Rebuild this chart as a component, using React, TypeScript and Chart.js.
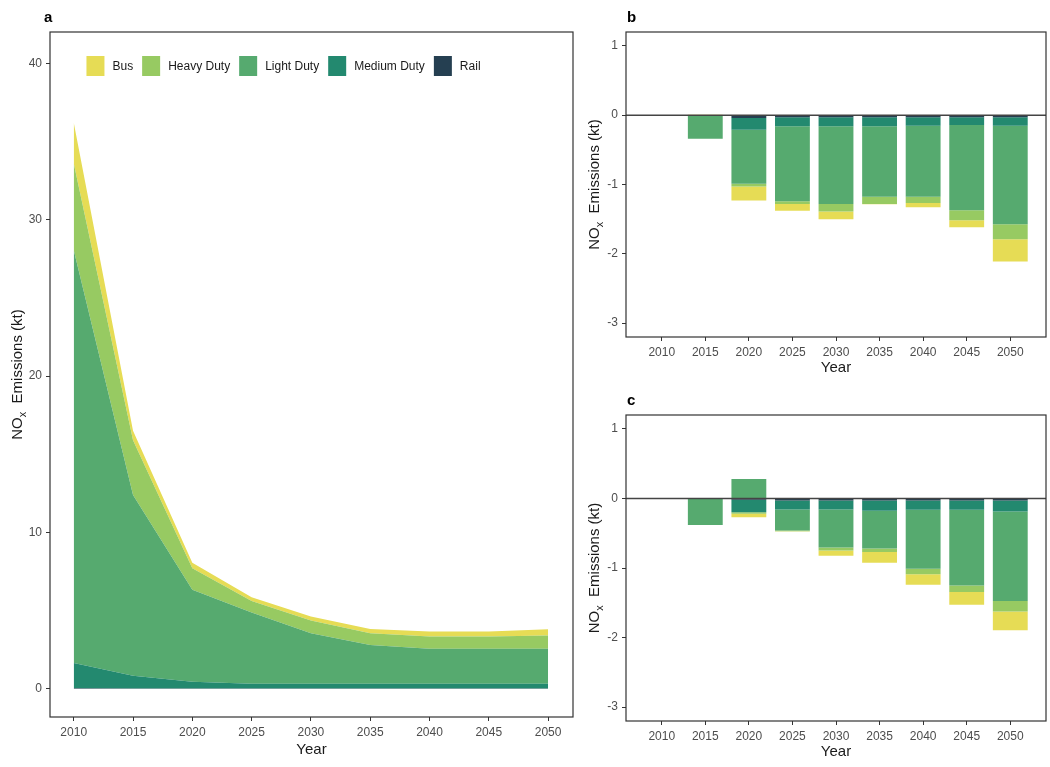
import { useEffect, useRef } from "react";
import { Chart, registerables } from "chart.js";

Chart.register(...registerables);

const FONT = "'Liberation Sans', Arial, sans-serif";
Chart.defaults.font.family = FONT;

// ---------- data ----------
const YEARS = [2010, 2015, 2020, 2025, 2030, 2035, 2040, 2045, 2050];
const SERIES = ["Rail", "Medium Duty", "Light Duty", "Heavy Duty", "Bus"]; // stacking order (bottom first)
const LEGEND_ORDER = ["Bus", "Heavy Duty", "Light Duty", "Medium Duty", "Rail"];
const COLORS: Record<string, string> = {
  Bus: "#E6DC55",
  "Heavy Duty": "#97CA62",
  "Light Duty": "#56AA6F",
  "Medium Duty": "#23896F",
  Rail: "#253F51",
};

// panel a: absolute emissions (kt)
const A_RAIL = [0.04, 0.03, 0.03, 0.03, 0.03, 0.03, 0.03, 0.03, 0.03];
const A_MEDIUM = [1.62, 0.8, 0.42, 0.29, 0.29, 0.29, 0.29, 0.29, 0.29];
const A_LIGHT = [26.4, 11.57, 5.88, 4.56, 3.24, 2.49, 2.24, 2.24, 2.24];
const A_HEAVY = [5.55, 3.5, 1.38, 0.74, 0.81, 0.75, 0.78, 0.78, 0.85];
const A_BUS = [2.6, 0.6, 0.36, 0.24, 0.25, 0.27, 0.32, 0.32, 0.4];

// panel b: differences (kt)
const B_RAIL = [0, 0, -0.04, -0.03, -0.03, -0.03, -0.03, -0.03, -0.03];
const B_MEDIUM = [0, 0, -0.17, -0.13, -0.13, -0.13, -0.124, -0.11, -0.124];
const B_LIGHT = [0, -0.34, -0.78, -1.08, -1.12, -1.015, -1.024, -1.23, -1.42];
const B_HEAVY = [0, 0, -0.04, -0.04, -0.11, -0.106, -0.09, -0.145, -0.216];
const B_BUS = [0, 0.01, -0.2, -0.1, -0.11, -0.005, -0.06, -0.1, -0.32];

// panel c: differences (kt)
const C_RAIL = [0, 0, -0.02, -0.03, -0.03, -0.03, -0.03, -0.03, -0.03];
const C_MEDIUM = [0, 0, -0.18, -0.13, -0.13, -0.148, -0.133, -0.133, -0.158];
const C_LIGHT = [0, -0.38, 0.28, -0.3, -0.544, -0.543, -0.847, -1.087, -1.288];
const C_HEAVY = [0, 0, -0.02, -0.01, -0.043, -0.048, -0.081, -0.096, -0.149];
const C_BUS = [0, 0, -0.05, -0.005, -0.077, -0.154, -0.149, -0.183, -0.269];

const A_TICKS_Y = [0, 10, 20, 30, 40];
const BC_TICKS_Y = [-3, -2, -1, 0, 1];

// ---------- helpers ----------
const TICK_COLOR = "#4D4D4D";
const BOX_COLOR = "#333333";

function drawNOxTitle(ctx: CanvasRenderingContext2D, cx: number, cy: number, size: number) {
  ctx.save();
  ctx.fillStyle = "#1A1A1A";
  const big = `${size}px ${FONT}`;
  const small = `${Math.round(size * 0.72)}px ${FONT}`;
  ctx.font = big;
  const w1 = ctx.measureText("NO").width;
  const w3 = ctx.measureText("  Emissions (kt)").width;
  ctx.font = small;
  const w2 = ctx.measureText("x").width;
  const total = w1 + w2 + w3;
  ctx.translate(cx, cy);
  ctx.rotate(-Math.PI / 2);
  ctx.textBaseline = "middle";
  ctx.textAlign = "left";
  let x = -total / 2;
  ctx.font = big;
  ctx.fillText("NO", x, 0);
  x += w1;
  ctx.font = small;
  ctx.fillText("x", x, size * 0.3);
  x += w2;
  ctx.font = big;
  ctx.fillText("  Emissions (kt)", x, 0);
  ctx.restore();
}

function makeDecor(opts: {
  letter: string;
  letterX: number;
  letterY: number;
  yTitleX: number;
  xTitleY: number;
  zeroLine?: boolean;
  legend?: boolean;
}) {
  return {
    id: "decor" + opts.letter,
    afterDatasetsDraw(chart: any) {
      const ctx = chart.ctx as CanvasRenderingContext2D;
      const a = chart.chartArea;
      ctx.save();
      if (opts.zeroLine) {
        const y0 = chart.scales.y.getPixelForValue(0);
        ctx.strokeStyle = "#444";
        ctx.lineWidth = 1.4;
        ctx.beginPath();
        ctx.moveTo(a.left, y0);
        ctx.lineTo(a.right, y0);
        ctx.stroke();
      }
      ctx.strokeStyle = BOX_COLOR;
      ctx.lineWidth = 1.2;
      ctx.strokeRect(a.left, a.top, a.right - a.left, a.bottom - a.top);

      // panel letter
      ctx.fillStyle = "#000";
      ctx.font = `bold 15px ${FONT}`;
      ctx.textAlign = "left";
      ctx.textBaseline = "alphabetic";
      ctx.fillText(opts.letter, opts.letterX, opts.letterY);

      // x title
      ctx.font = `15px ${FONT}`;
      ctx.fillStyle = "#1A1A1A";
      ctx.textAlign = "center";
      ctx.textBaseline = "middle";
      ctx.fillText("Year", (a.left + a.right) / 2, opts.xTitleY);

      drawNOxTitle(ctx, opts.yTitleX, (a.top + a.bottom) / 2, 15);

      if (opts.legend) {
        ctx.font = `12px ${FONT}`;
        const boxW = 18, boxH = 20, gapText = 8, gapItem = 9;
        let total = 0;
        LEGEND_ORDER.forEach((n, i) => {
          total += boxW + gapText + ctx.measureText(n).width + (i < LEGEND_ORDER.length - 1 ? gapItem : 0);
        });
        let x = a.left + 233.5 - total / 2;
        const y = 56;
        ctx.textAlign = "left";
        ctx.textBaseline = "middle";
        LEGEND_ORDER.forEach((n) => {
          ctx.fillStyle = COLORS[n];
          ctx.fillRect(x, y, boxW, boxH);
          x += boxW + gapText;
          ctx.fillStyle = "#1A1A1A";
          ctx.fillText(n, x, y + boxH / 2 + 0.5);
          x += ctx.measureText(n).width + gapItem;
        });
      }
      ctx.restore();
    },
  };
}

function gridOpts() {
  return {
    drawOnChartArea: false,
    drawTicks: true,
    tickLength: 4,
    color: BOX_COLOR,
    lineWidth: 1,
    offset: false,
  };
}

// ---------- configs ----------
function configA(): any {
  const arrays = [A_RAIL, A_MEDIUM, A_LIGHT, A_HEAVY, A_BUS];
  return {
    type: "line",
    data: {
      datasets: SERIES.map((name, i) => ({
        label: name,
        data: YEARS.map((yr, j) => ({ x: yr, y: arrays[i][j] })),
        backgroundColor: COLORS[name],
        borderColor: COLORS[name],
        borderWidth: 0,
        pointRadius: 0,
        fill: i === 0 ? "origin" : "-1",
        tension: 0,
      })),
    },
    options: {
      animation: false,
      responsive: false,
      layout: { padding: { top: 32, right: 7, left: 0, bottom: 0 } },
      plugins: { legend: { display: false }, tooltip: { enabled: false } },
      scales: {
        x: {
          type: "linear",
          min: 2008,
          max: 2052.1,
          afterFit: (s: any) => { s.height = 50; },
          afterBuildTicks: (s: any) => { s.ticks = YEARS.map((v) => ({ value: v })); },
          ticks: { color: TICK_COLOR, font: { size: 12 }, padding: 4, callback: (v: any) => String(v) },
          grid: gridOpts(),
          border: { display: false },
        },
        y: {
          type: "linear",
          stacked: true,
          min: -1.8,
          max: 42,
          afterFit: (s: any) => { s.width = 50; },
          afterBuildTicks: (s: any) => { s.ticks = A_TICKS_Y.map((v) => ({ value: v })); },
          ticks: { color: TICK_COLOR, font: { size: 12 }, padding: 4 },
          grid: gridOpts(),
          border: { display: false },
        },
      },
    },
    plugins: [makeDecor({ letter: "a", letterX: 44, letterY: 22, yTitleX: 18, xTitleY: 750, legend: true })],
  };
}

function configBars(arrays: number[][], letter: string, xTitleY: number): any {
  return {
    type: "bar",
    data: {
      datasets: SERIES.map((name, i) => ({
        label: name,
        data: YEARS.map((_, j) => ({ x: j, y: arrays[i][j] })),
        backgroundColor: COLORS[name],
        borderWidth: 0,
        barPercentage: 0.8,
        categoryPercentage: 1,
      })),
    },
    options: {
      animation: false,
      responsive: false,
      layout: { padding: { top: 32, right: 4, left: 0, bottom: 0 } },
      plugins: { legend: { display: false }, tooltip: { enabled: false } },
      scales: {
        x: {
          type: "linear",
          stacked: true,
          offset: false,
          min: -0.82,
          max: 8.82,
          afterFit: (s: any) => { s.height = 46; },
          afterBuildTicks: (s: any) => { s.ticks = YEARS.map((_, j) => ({ value: j })); },
          ticks: { color: TICK_COLOR, font: { size: 12 }, padding: 4, callback: (v: any) => String(YEARS[Math.round(v)]) },
          grid: gridOpts(),
          border: { display: false },
        },
        y: {
          type: "linear",
          stacked: true,
          min: -3.2,
          max: 1.2,
          afterFit: (s: any) => { s.width = 46; },
          afterBuildTicks: (s: any) => { s.ticks = BC_TICKS_Y.map((v) => ({ value: v })); },
          ticks: { color: TICK_COLOR, font: { size: 12 }, padding: 4 },
          grid: gridOpts(),
          border: { display: false },
        },
      },
    },
    plugins: [makeDecor({ letter, letterX: 47, letterY: 22, yTitleX: 15, xTitleY, zeroLine: true })],
  };
}

function Panel(props: { make: () => any; left: number; top: number; width: number; height: number }) {
  const ref = useRef<HTMLCanvasElement | null>(null);
  useEffect(() => {
    if (!ref.current) return;
    const chart = new Chart(ref.current, props.make());
    return () => chart.destroy();
  }, []);
  return (
    <canvas
      ref={ref}
      width={props.width}
      height={props.height}
      style={{ position: "absolute", left: props.left, top: props.top, width: props.width, height: props.height }}
    />
  );
}

export default function App() {
  return (
    <div style={{ position: "fixed", left: 0, top: 0, width: 1050, height: 767, background: "#fff", overflow: "hidden" }}>
      <Panel make={configA} left={0} top={0} width={580} height={767} />
      <Panel
        make={() => configBars([B_RAIL, B_MEDIUM, B_LIGHT, B_HEAVY, B_BUS], "b", 368)}
        left={580}
        top={0}
        width={470}
        height={383}
      />
      <Panel
        make={() => configBars([C_RAIL, C_MEDIUM, C_LIGHT, C_HEAVY, C_BUS], "c", 369)}
        left={580}
        top={383}
        width={470}
        height={384}
      />
    </div>
  );
}
